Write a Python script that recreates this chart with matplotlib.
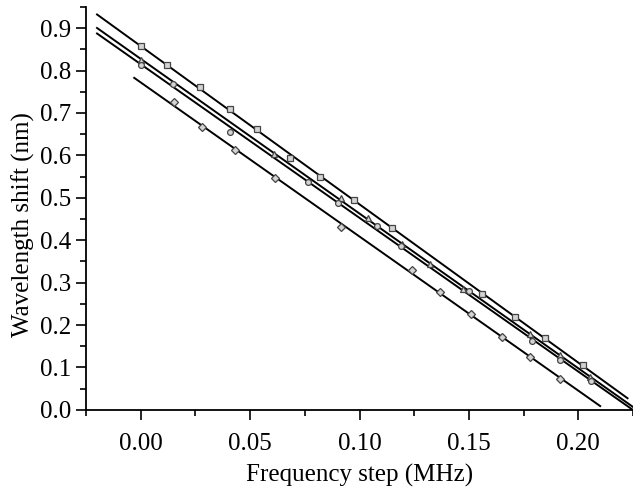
import matplotlib
matplotlib.use("Agg")
import matplotlib.pyplot as plt
import numpy as np
from matplotlib.ticker import MultipleLocator, FormatStrFormatter

# four data sets (frequency step in MHz, shift in nm)
sq_x = [0.000, 0.012, 0.027, 0.041, 0.053, 0.068, 0.082, 0.0975, 0.115, 0.156, 0.171, 0.185, 0.202]
sq_y = [0.858, 0.812, 0.760, 0.709, 0.662, 0.594, 0.550, 0.494, 0.428, 0.274, 0.219, 0.169, 0.106]

tri_x = [0.000, 0.061, 0.0915, 0.104, 0.1195, 0.132, 0.1475, 0.178, 0.1915, 0.2055]
tri_y = [0.825, 0.604, 0.499, 0.453, 0.390, 0.344, 0.285, 0.179, 0.130, 0.077]

cir_x = [0.000, 0.0145, 0.041, 0.0765, 0.090, 0.108, 0.119, 0.150, 0.179, 0.1915, 0.206]
cir_y = [0.813, 0.768, 0.656, 0.536, 0.487, 0.433, 0.386, 0.279, 0.162, 0.117, 0.067]

dia_x = [0.015, 0.028, 0.043, 0.0615, 0.0915, 0.124, 0.137, 0.151, 0.165, 0.178, 0.1915]
dia_y = [0.725, 0.667, 0.613, 0.546, 0.430, 0.329, 0.277, 0.226, 0.172, 0.125, 0.073]

series = [
    (sq_x, sq_y, "s", (-0.020, 0.2225)),
    (tri_x, tri_y, "^", (-0.020, 0.225)),
    (cir_x, cir_y, "o", (-0.020, 0.225)),
    (dia_x, dia_y, "D", (-0.003, 0.210)),
]

plt.rcParams["font.family"] = ["Liberation Serif", "DejaVu Serif"]

fig = plt.figure(figsize=(6.33, 4.92), dpi=100)
ax = fig.add_axes([0.136, 0.167, 0.864, 0.819])

for xs, ys, mk, (x0, x1) in series:
    k, b = np.polyfit(xs, ys, 1)
    fx = np.array([x0, x1])
    ax.plot(fx, k * fx + b, color="black", lw=1.4, zorder=2)
    ax.plot(xs, ys, linestyle="none", marker=mk, ms=4.2 if mk != "D" else 3.6,
            mfc="#d4d4d4", mec="#444444", mew=0.9, zorder=3)

ax.set_xlim(-0.025, 0.225)
ax.set_ylim(0.0, 0.95)
ax.xaxis.set_major_locator(MultipleLocator(0.05))
ax.xaxis.set_minor_locator(MultipleLocator(0.025))
ax.yaxis.set_major_locator(MultipleLocator(0.1))
ax.yaxis.set_minor_locator(MultipleLocator(0.05))
ax.xaxis.set_major_formatter(FormatStrFormatter("%.2f"))
ax.yaxis.set_major_formatter(FormatStrFormatter("%.1f"))

for side in ("top", "right"):
    ax.spines[side].set_visible(False)
for side in ("left", "bottom"):
    ax.spines[side].set_linewidth(1.3)

ax.tick_params(which="major", direction="out", length=7, width=1.2, labelsize=18, pad=4)
ax.tick_params(which="minor", direction="out", length=4, width=1.2)
ax.tick_params(axis="x", pad=10)

ax.set_xlabel("Frequency step (MHz)", fontsize=18)
ax.set_ylabel("Wavelength shift (nm)", fontsize=18)
ax.xaxis.set_label_coords(0.5, -0.135)
ax.yaxis.set_label_coords(-0.094, 0.46)

fig.savefig("out.png", dpi=100)
